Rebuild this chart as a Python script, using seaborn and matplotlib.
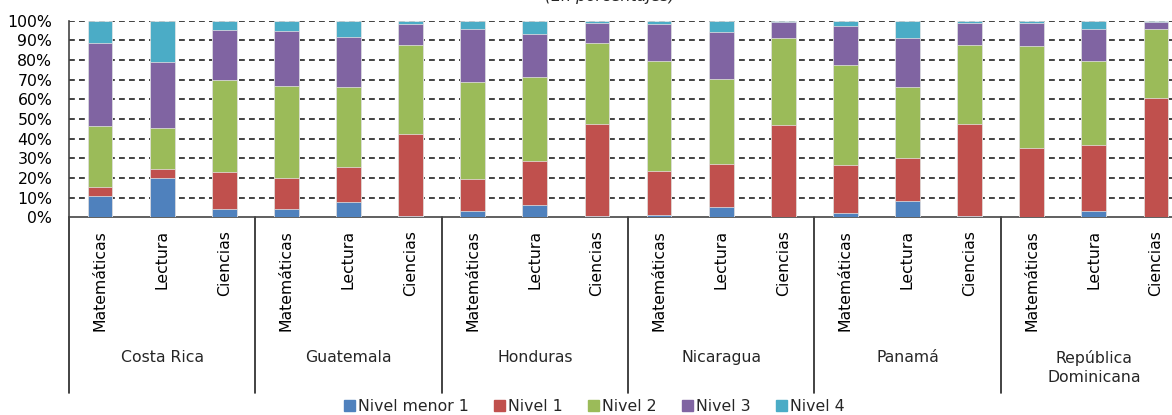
import matplotlib
matplotlib.use("Agg")
import matplotlib.pyplot as plt
import matplotlib.patches as mpatches
import matplotlib.transforms as mtransforms
import numpy as np
import pandas as pd
import seaborn as sns

# datos (porcentajes por nivel, en el orden de las barras)
paises = ["Costa Rica", "Guatemala", "Honduras", "Nicaragua", "Panamá", "República\nDominicana"]
materias = ["Matemáticas", "Lectura", "Ciencias"]
niveles = ["Nivel menor 1", "Nivel 1", "Nivel 2", "Nivel 3", "Nivel 4"]

nivel_menor1 = [10.7, 20.2, 4.1, 4.4, 7.8, 0.8, 3.4, 6.3, 0.5, 1.2, 5.1, 0.3, 2.4, 8.1, 0.5, 0.3, 3.4, 0.2]
nivel_1 = [4.7, 4.4, 19.0, 15.4, 18.0, 41.4, 16.1, 22.5, 47.0, 22.5, 22.2, 46.8, 24.4, 21.9, 47.1, 35.1, 33.5, 60.5]
nivel_2 = [30.9, 20.8, 46.9, 46.8, 40.3, 45.4, 49.1, 42.4, 41.3, 55.8, 43.2, 43.9, 50.5, 36.4, 39.9, 51.5, 42.8, 35.1]
nivel_3 = [42.5, 33.8, 25.4, 28.3, 25.6, 10.9, 27.3, 22.0, 10.2, 18.6, 23.9, 8.2, 19.8, 25.0, 11.5, 12.1, 16.2, 3.5]
nivel_4 = [11.2, 20.8, 4.6, 5.1, 8.3, 1.5, 4.1, 6.8, 1.0, 1.9, 5.6, 0.8, 2.9, 8.6, 1.0, 1.0, 4.1, 0.7]

colores = ["#4F81BD", "#C0504D", "#9BBB59", "#8064A2", "#4BACC6"]

sns.set_theme(style="white")
plt.rcParams['font.family'] = ['DejaVu Sans']
FS = 11.3

barras = [f"{p}|{m}" for p in paises for m in materias]
valores = np.array([nivel_menor1, nivel_1, nivel_2, nivel_3, nivel_4])
acum = np.cumsum(valores, axis=0)

fig = plt.figure(figsize=(11.72, 4.15), dpi=100)
W, H = 1172, 415
ax = fig.add_axes([69 / W, 1 - 217.3 / H, (1187 - 69) / W, (217.3 - 20.7) / H])

# barras apiladas: se dibuja el acumulado de arriba hacia abajo
for i in range(len(niveles) - 1, -1, -1):
    df = pd.DataFrame({"barra": barras, "acumulado": acum[i]})
    sns.barplot(data=df, x="barra", y="acumulado", order=barras, color=colores[i],
                saturation=1, width=0.4, edgecolor="#e8e8e8", linewidth=0.5, ax=ax, zorder=3)

ax.set_xlim(-0.5, len(barras) - 0.5)
ax.set_ylim(0, 100)
ax.set_yticks(np.arange(0, 101, 10))
ax.set_yticklabels([f"{v}%" for v in range(0, 101, 10)], fontsize=FS, color="black")
ax.set_xticks(range(len(barras)))
ax.set_xticklabels(materias * len(paises), rotation=90, va="top", ha="center", fontsize=FS, color="black")
ax.tick_params(axis="x", length=0, pad=9.5)
ax.tick_params(axis="y", length=0, pad=12)
ax.set_xlabel("")
ax.set_ylabel("")

for y in range(10, 101, 10):
    ax.axhline(y, color="#222222", lw=1.2, ls=(0, (3.5, 2.5)), zorder=1)

for s in ["top", "right"]:
    ax.spines[s].set_visible(False)
for s in ["left", "bottom"]:
    ax.spines[s].set_color("#444444")
    ax.spines[s].set_linewidth(1.2)

# separadores y nombres de paises
trans = mtransforms.blended_transform_factory(ax.transData, ax.transAxes)
y_fondo = -(392.5 - 217.3) / 196.6
for k in range(len(paises) + 1):
    ax.plot([k * 3 - 0.5, k * 3 - 0.5], [0, y_fondo], transform=trans, color="#222222",
            lw=1.2, clip_on=False)
for k, p in enumerate(paises):
    ax.text(k * 3 + 1, -(350 - 217.3) / 196.6, p, transform=trans, ha="center", va="top",
            fontsize=FS, linespacing=1.3)

fig.text(610 / W, 1 - 1.5 / H, "(En porcentajes)", ha="center", va="baseline",
         fontsize=FS, style="italic")

handles = [mpatches.Patch(color=c, label=n) for c, n in zip(colores, niveles)]
fig.legend(handles=handles, loc="center", bbox_to_anchor=(594 / W, 1 - 406 / H), ncol=5,
           frameon=False, fontsize=FS, handlelength=0.7, handleheight=0.7,
           handletextpad=0.2, columnspacing=1.6, borderpad=0)

fig.savefig("out.png", dpi=100)
